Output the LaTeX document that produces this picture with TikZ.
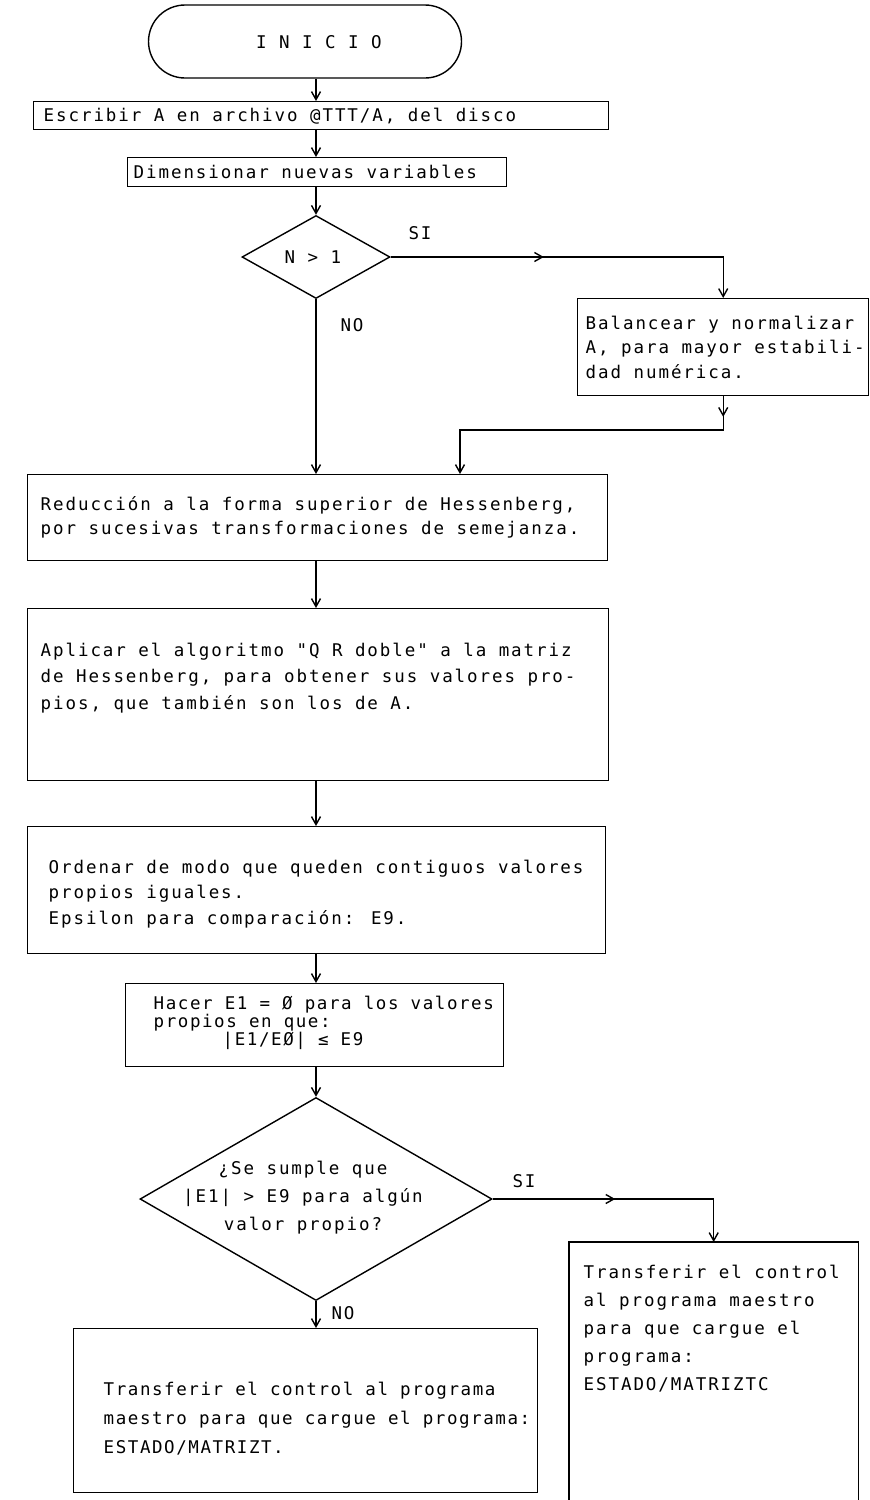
\documentclass[tikz,border=0pt]{standalone}
\usepackage{fontspec}
\newfontfamily\typ[LetterSpace=11]{DejaVu Sans Mono}
\newfontfamily\typn[LetterSpace=9]{DejaVu Sans Mono}
\usetikzlibrary{arrows.meta,shapes.geometric,shapes.misc,decorations.markings}

\tikzset{
  arr/.tip={Straight Barb[length=8pt,width=9pt]},
  flow/.style={-arr},
  box/.style={draw, rectangle, inner sep=0pt, anchor=north west},
  txt/.style={inner sep=0pt, align=left, anchor=north west,
              font=\typ\fontsize{17.5}{#1}\selectfont},
  txt/.default=25pt,
  ntxt/.style={txt, font=\typn\fontsize{17.5}{#1}\selectfont},
  ctxt/.style={inner sep=0pt, align=center, anchor=center,
               font=\typ\fontsize{17.5}{#1}\selectfont},
  ctxt/.default=25pt,
  midarrow/.style={postaction={decorate},
    decoration={markings, mark=at position #1 with {\arrow{arr}}}},
}
\newcommand{\st}{\rule{0pt}{13pt}}

\begin{document}
\begin{tikzpicture}[x=1pt, y=-1pt, line width=1.4pt]
\useasboundingbox (0,0) rectangle (870,1500);
\coordinate (spine) at (316,0);
\coordinate (join) at (460,430);

% start terminal
\node[draw, rounded rectangle, minimum width=313pt, minimum height=73pt, inner sep=0pt] (ini) at (305,41.5) {};
\node[ctxt] (initxt) at (319,42) {I N I C I O};

% process boxes
\node[box, minimum width=575pt, minimum height=28pt] (esc) at (33,101) {};
\node[txt] (esctxt) at (43,107) {\st Escribir A en archivo @TTT/A, del disco};

\node[box, minimum width=379pt, minimum height=29pt] (dim) at (127,157) {};
\node[txt] (dimtxt) at (133,164) {\st Dimensionar nuevas variables};

% first decision
\node[draw, diamond, minimum width=148pt, minimum height=83pt, inner sep=0pt] (d1) at (316,257) {};
\node[ctxt] (d1txt) at (313,257) {N > 1};
\node[ctxt] (si1) at (420,233) {SI};
\node[ctxt] (no1) at (352,325) {NO};

\node[box, minimum width=291pt, minimum height=97pt] (bal) at (577,298) {};
\node[txt=24.5pt] (baltxt) at (585,315) {\st Balancear y normalizar\\A, para mayor estabili-\\dad numérica.};

\node[box, minimum width=580pt, minimum height=86pt] (hess) at (27,474) {};
\node[txt=24pt] (hesstxt) at (40,496) {\st Reducción a la forma superior de Hessenberg,\\por sucesivas transformaciones de semejanza.};

\node[box, minimum width=581pt, minimum height=172pt] (qr) at (27,608) {};
\node[txt=26.5pt] (qrtxt) at (40,642) {\st Aplicar el algoritmo "Q R doble" a la matriz\\de Hessenberg, para obtener sus valores  pro-\\pios, que también son los de A.};

\node[box, minimum width=578pt, minimum height=127pt] (ord) at (27,826) {};
\node[txt=25.5pt] (ordtxt) at (48,859) {\st Ordenar de modo que queden contiguos valores\\propios iguales.\\Epsilon para comparación: E9.};

\node[box, minimum width=378pt, minimum height=83pt] (hac) at (125,983) {};
\node[ntxt=18pt] (hactxt) at (153,995) {\st Hacer E1 = Ø para los valores\\propios en que:\\\hspace*{69pt}|E1/EØ| ≤ E9};

% second decision
\node[draw, diamond, minimum width=352pt, minimum height=203pt, inner sep=0pt] (d2) at (316,1199) {};
\node[ctxt=28pt] (d2txt) at (303,1198) {¿Se sumple que\\|E1| > E9 para algún\\valor propio?};
\node[ctxt] (si2) at (524,1181) {SI};
\node[ctxt] (no2) at (343,1313) {NO};

\node[box, minimum width=464pt, minimum height=164pt] (lb) at (73,1328) {};
\node[ntxt=29pt] (lbtxt) at (103,1381) {\st Transferir el control al programa\\maestro para que cargue el programa:\\ESTADO/MATRIZT.};

\node[box, draw=none, minimum width=288pt, minimum height=262pt] (rb) at (569,1242) {};
\draw (rb.south west) -- (rb.north west) -- (rb.north east) -- (rb.south east);
\node[txt=28pt] (rbtxt) at (583,1264) {\st Transferir el control\\al programa maestro\\para que cargue  el\\programa:\\ESTADO/MATRIZTC};

% connectors
\draw[flow] (ini.south -| spine) -- (esc.north -| spine);
\draw[flow] (esc.south -| spine) -- (dim.north -| spine);
\draw[flow] (dim.south -| spine) -- (d1.north);
\draw[flow, midarrow=0.41] (d1.east) -- (d1.east -| bal.north) -- (bal.north);
\draw[flow] (d1.south) -- (hess.north -| d1.south);
\draw[flow, midarrow=0.06] (bal.south) -- (bal.south |- join) -- (join) -- (join |- hess.north);
\draw[flow] (hess.south -| spine) -- (qr.north -| spine);
\draw[flow] (qr.south -| spine) -- (ord.north -| spine);
\draw[flow] (ord.south -| spine) -- (hac.north -| spine);
\draw[flow] (hac.south -| spine) -- (d2.north);
\draw[flow, midarrow=0.464] (d2.east) -- (d2.east -| rb.north) -- (rb.north);
\draw[flow] (d2.south) -- (lb.north -| d2.south);
\end{tikzpicture}
\end{document}
